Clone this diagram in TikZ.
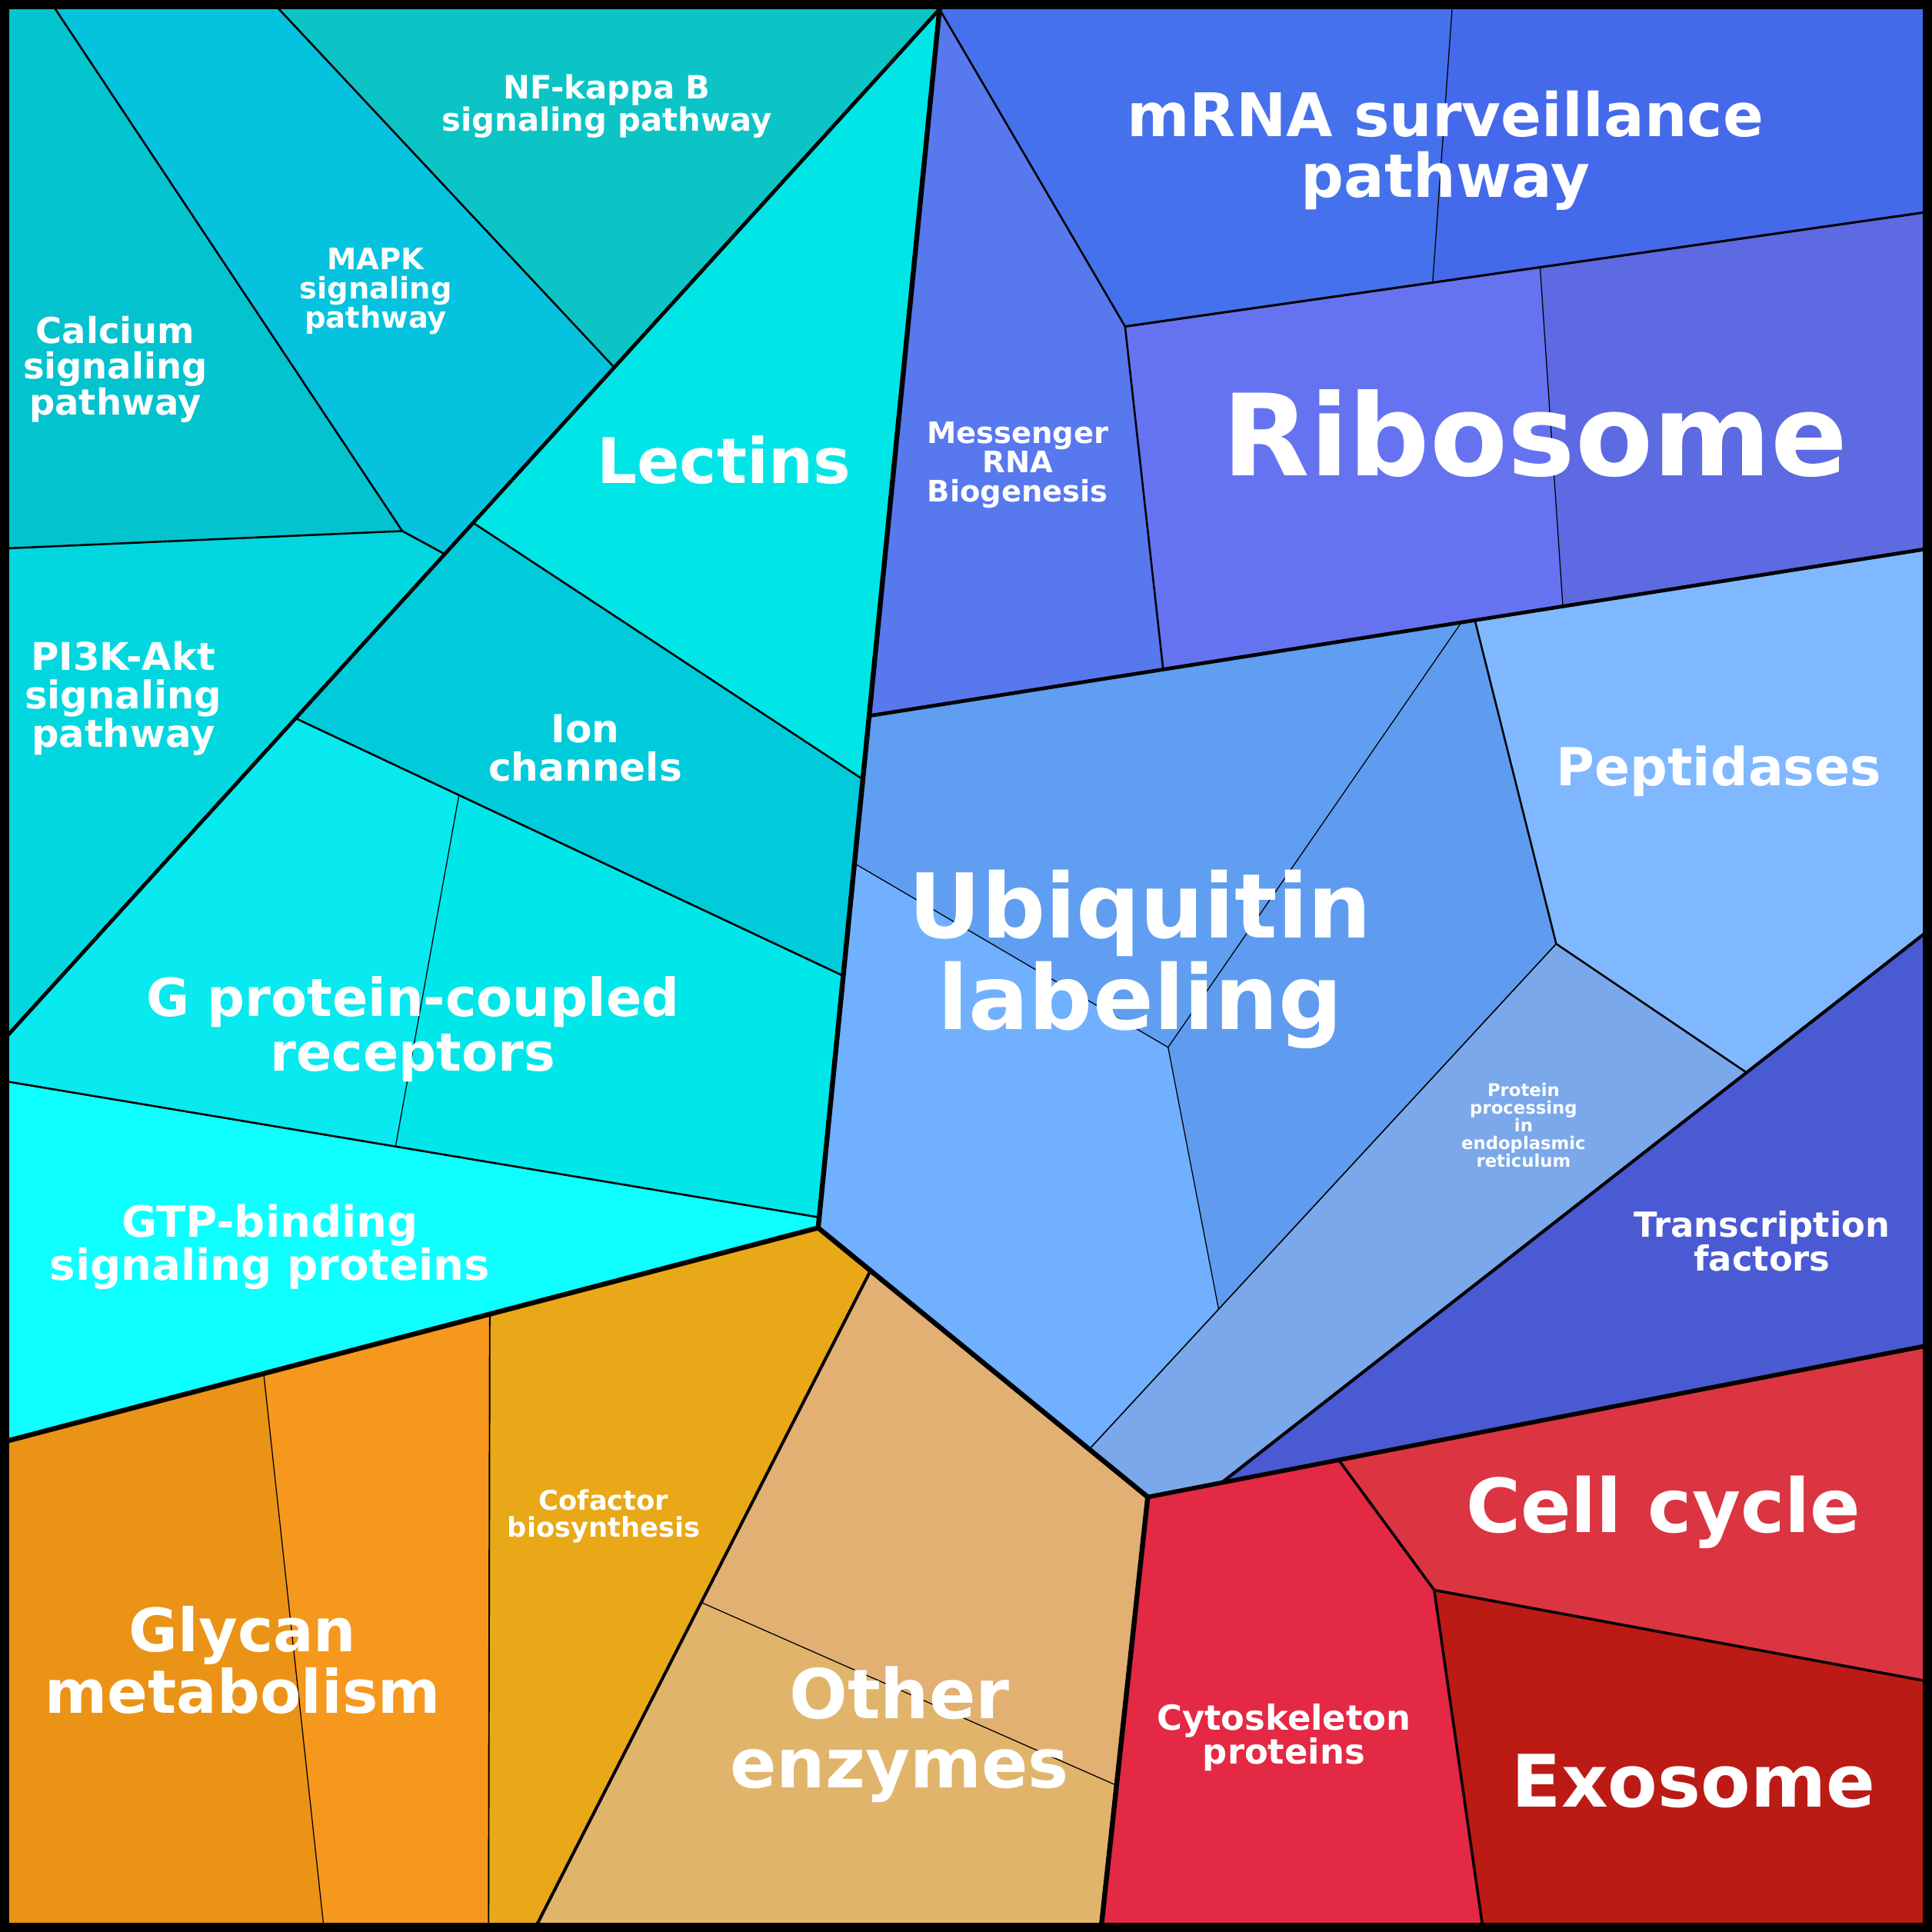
\documentclass[tikz,border=0pt]{standalone}
\usepackage{fontspec}
\setmainfont{DejaVu Sans}
\definecolor{cCa}{HTML}{03C3CF}
\definecolor{cMAPK}{HTML}{05C3DE}
\definecolor{cNF}{HTML}{0CC4C6}
\definecolor{cPI}{HTML}{02D7DF}
\definecolor{cLec}{HTML}{00E6E6}
\definecolor{cIon}{HTML}{00CBDB}
\definecolor{cGPa}{HTML}{08E9F0}
\definecolor{cGPb}{HTML}{00E7EA}
\definecolor{cGTP}{HTML}{0DFFFF}
\definecolor{cGla}{HTML}{EA9316}
\definecolor{cGlb}{HTML}{F6981D}
\definecolor{cCof}{HTML}{E9A817}
\definecolor{cOta}{HTML}{E1B072}
\definecolor{cOtb}{HTML}{E0B56B}
\definecolor{cCyt}{HTML}{E32944}
\definecolor{cCC}{HTML}{DA3541}
\definecolor{cExo}{HTML}{BC1A15}
\definecolor{cTF}{HTML}{4A5AD3}
\definecolor{cPP}{HTML}{7AA8EA}
\definecolor{cPep}{HTML}{80B8FF}
\definecolor{cUba}{HTML}{5F9EF0}
\definecolor{cUbb}{HTML}{70B0FF}
\definecolor{cUbc}{HTML}{5F9CEF}
\definecolor{cMes}{HTML}{5878EE}
\definecolor{cMra}{HTML}{4671EC}
\definecolor{cMrb}{HTML}{4569EB}
\definecolor{cRia}{HTML}{6673F0}
\definecolor{cRib}{HTML}{5D6AE2}
\tikzset{
  lab/.style 2 args={text=white, font=\bfseries\fontsize{#1}{#2}\selectfont, align=center, anchor=base, inner sep=0pt},
  edgeA/.style={line width=4, line cap=round, line join=round},
  edgeB/.style={line width=3, line cap=round, line join=round},
  edgeC/.style={line width=1.6, line cap=round, line join=round},
  edgeD/.style={line width=0.8, line cap=round, line join=round},
}
\begin{document}
\begin{tikzpicture}[x=1pt,y=-1pt]
\useasboundingbox (0,0) rectangle (1568,1568);
% corners
\coordinate (C00) at (0,0);
\coordinate (C10) at (1568,0);
\coordinate (C11) at (1568,1568);
\coordinate (C01) at (0,1568);
\coordinate (T1) at (762.5,0);
% junctions
\coordinate (J1) at (762.5,7.5);
\coordinate (J2) at (664,996.5);
\coordinate (J3) at (705.4,581);
\coordinate (J4) at (931.5,1215);
% cyan group
\coordinate (P1) at (40,0);
\coordinate (P2) at (326.5,431);
\coordinate (P3) at (0,445.3);
\coordinate (P4) at (361,449.7);
\coordinate (P5) at (219.5,0);
\coordinate (P6) at (498.5,298.2);
\coordinate (P7) at (384,424.3);
\coordinate (P8) at (240,583);
\coordinate (P9) at (0,847.2);
\coordinate (Q2) at (700.3,632.5);
\coordinate (Q4) at (684.4,792);
\coordinate (Q5) at (664.9,988);
\coordinate (G0) at (0,876.8);
\coordinate (G1) at (372.5,645.3);
\coordinate (G2) at (321,930.5);
% orange group
\coordinate (O0) at (0,1171);
\coordinate (O1) at (214,1114.7);
\coordinate (O1b) at (263.2,1568);
\coordinate (O2) at (397.5,1066.5);
\coordinate (O2b) at (396.5,1568);
\coordinate (O3) at (706.5,1031.2);
\coordinate (O4) at (432.7,1568);
\coordinate (O5) at (569.1,1300.5);
\coordinate (O6) at (906.2,1449);
\coordinate (O7) at (893.3,1568);
% red group
\coordinate (R0) at (1568,1091.3);
\coordinate (R1) at (991.5,1203.3);
\coordinate (R2) at (1086.5,1184.9);
\coordinate (R3) at (1164,1290.5);
\coordinate (R4) at (1568,1365.2);
\coordinate (R5) at (1203.9,1568);
% blue top group
\coordinate (M1) at (913.1,265);
\coordinate (M2) at (944,543.3);
\coordinate (M3) at (1268.4,492.2);
\coordinate (M4) at (1568,444.8);
\coordinate (M5) at (1162.7,229.4);
\coordinate (M6) at (1249.9,216.9);
\coordinate (M7) at (1568,171.5);
\coordinate (M8) at (1179,0);
% ubiquitin group
\coordinate (U1) at (1186,505.2);
\coordinate (U2) at (1197,503.4);
\coordinate (U3) at (693.6,700.8);
\coordinate (U4) at (948,850);
\coordinate (U5) at (989,1062.5);
\coordinate (U6) at (884,1176.2);
\coordinate (U7) at (1263,766);
\coordinate (U8) at (1417.5,870.5);
\coordinate (U9) at (1568,752.9);

% ---- cells ----
\fill[cCa] (C00) -- (P1) -- (P2) -- (P3) -- cycle;
\fill[cMAPK] (P1) -- (P5) -- (P6) -- (P4) -- (P2) -- cycle;
\fill[cNF] (P5) -- (T1) -- (J1) -- (P6) -- cycle;
\fill[cPI] (P3) -- (P2) -- (P4) -- (P9) -- cycle;
\fill[cLec] (J1) -- (Q2) -- (P7) -- (P6) -- cycle;
\fill[cIon] (P7) -- (Q2) -- (Q4) -- (P8) -- cycle;
\fill[cGPa] (P8) -- (G1) -- (G2) -- (G0) -- (P9) -- cycle;
\fill[cGPb] (G1) -- (Q4) -- (Q5) -- (G2) -- cycle;
\fill[cGTP] (G0) -- (G2) -- (Q5) -- (J2) -- (O0) -- cycle;
\fill[cGla] (O0) -- (O1) -- (O1b) -- (C01) -- cycle;
\fill[cGlb] (O1) -- (O2) -- (O2b) -- (O1b) -- cycle;
\fill[cCof] (O2) -- (J2) -- (O3) -- (O4) -- (O2b) -- cycle;
\fill[cOta] (O3) -- (J4) -- (O6) -- (O5) -- cycle;
\fill[cOtb] (O5) -- (O6) -- (O7) -- (O4) -- cycle;
\fill[cCyt] (J4) -- (R2) -- (R3) -- (R5) -- (O7) -- cycle;
\fill[cCC] (R2) -- (R0) -- (R4) -- (R3) -- cycle;
\fill[cExo] (R3) -- (R4) -- (C11) -- (R5) -- cycle;
\fill[cTF] (R1) -- (U8) -- (U9) -- (R0) -- cycle;
\fill[cPP] (U6) -- (U7) -- (U8) -- (R1) -- (J4) -- cycle;
\fill[cUbb] (U3) -- (U4) -- (U5) -- (U6) -- (J2) -- cycle;
\fill[cUba] (J3) -- (U1) -- (U4) -- (U3) -- cycle;
\fill[cUbc] (U1) -- (U2) -- (U7) -- (U5) -- (U4) -- cycle;
\fill[cPep] (U2) -- (M4) -- (U9) -- (U8) -- (U7) -- cycle;
\fill[cMes] (J1) -- (M1) -- (M2) -- (J3) -- cycle;
\fill[cMra] (T1) -- (M8) -- (M5) -- (M1) -- (J1) -- cycle;
\fill[cMrb] (M8) -- (C10) -- (M7) -- (M6) -- (M5) -- cycle;
\fill[cRia] (M1) -- (M5) -- (M6) -- (M3) -- (M2) -- cycle;
\fill[cRib] (M6) -- (M7) -- (M4) -- (M3) -- cycle;

% ---- borders ----
\draw[edgeD] (M5) -- (M8);
\draw[edgeD] (M6) -- (M3);
\draw[edgeD] (U3) -- (U4) -- (U1);
\draw[edgeD] (U4) -- (U5);
\draw[edgeD, line width=1] (U6) -- (U7);
\draw[edgeD] (G1) -- (G2);
\draw[edgeD] (O1) -- (O1b);
\draw[edgeD, line width=1.2] (O2) -- (O2b);
\draw[edgeD] (O5) -- (O6);
\draw[edgeC] (P1) -- (P2);
\draw[edgeC] (P3) -- (P2) -- (P4);
\draw[edgeC] (P5) -- (P6);
\draw[edgeC] (P7) -- (Q2);
\draw[edgeC] (P8) -- (Q4);
\draw[edgeC] (G0) -- (Q5);
\draw[edgeC] (J1) -- (M1) -- (M2);
\draw[edgeC, line width=1.9] (M1) -- (M7);
\draw[edgeC] (U2) -- (U7) -- (U8);
\draw[edgeC, line width=2.2] (R2) -- (R3) -- (R4);
\draw[edgeC, line width=2.2] (R3) -- (R5);
\draw[edgeC, line width=2.5] (O3) -- (O4);
\draw[edgeB] (J1) -- (P9);
\draw[edgeB] (J3) -- (M4);
\draw[edgeB, line width=2.6] (R1) -- (U9);
\draw[edgeA] (J1) -- (J2);
\draw[edgeA] (J2) -- (O0);
\draw[edgeA] (J2) -- (J4);
\draw[edgeA] (J4) -- (O7);
\draw[edgeA, line width=3.6] (J4) -- (R0);
\draw[line width=15] (C00) rectangle (C11);

% ---- labels (anchor = baseline of the last line) ----
\node[lab={26}{26.5}] (tNF) at (492.5,106.5) {NF-kappa B\\signaling pathway};
\node[lab={24}{24}] (tMAPK) at (305,266.5) {MAPK\\signaling\\pathway};
\node[lab={29}{29}] (tCa) at (93.5,336.5) {Calcium\\signaling\\pathway};
\node[lab={51}{51}] (tLec) at (587.5,392.5) {Lectins};
\node[lab={31}{31.3}] (tPI) at (100,606.6) {PI3K-Akt\\signaling\\pathway};
\node[lab={31.3}{31.5}] (tIon) at (475,634) {Ion\\channels};
\node[lab={42.7}{44}] (tGPCR) at (335,869) {G protein-coupled\\receptors};
\node[lab={35}{35}] (tGTP) at (219,1039) {GTP-binding\\signaling proteins};
\node[lab={22}{22}] (tCof) at (490,1247.5) {Cofactor\\biosynthesis};
\node[lab={48.6}{50}] (tGly) at (197,1390.5) {Glycan\\metabolism};
\node[lab={55.7}{56}] (tOth) at (730,1451) {Other\\enzymes};
\node[lab={28}{27.5}] (tCyt) at (1042,1431.5) {Cytoskeleton\\proteins};
\node[lab={60.4}{60}] (tCC) at (1350,1244) {Cell cycle};
\node[lab={58.8}{59}] (tExo) at (1374.5,1466.5) {Exosome};
\node[lab={28}{27.5}] (tTF) at (1430,1031.5) {Transcription\\factors};
\node[lab={14.2}{14.4}] (tPP) at (1236.5,947.1) {Protein\\processing\\in\\endoplasmic\\reticulum};
\node[lab={72.6}{74.3}] (tUb) at (925.5,835.3) {Ubiquitin\\labeling};
\node[lab={42.5}{42.5}] (tPep) at (1395,637.5) {Peptidases};
\node[lab={92}{92}] (tRib) at (1246,386) {Ribosome};
\node[lab={24}{23.8}] (tMes) at (826,407.6) {Messenger\\RNA\\Biogenesis};
\node[lab={48.8}{49}] (tmRNA) at (1173,160) {mRNA surveillance\\pathway};
\end{tikzpicture}
\end{document}
